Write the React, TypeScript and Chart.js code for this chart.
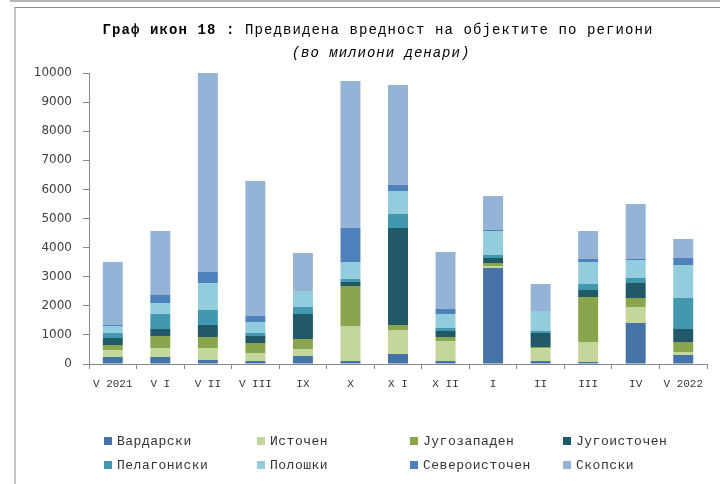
import React, { useEffect, useRef } from "react";
import { Chart, registerables } from "chart.js";

Chart.register(...registerables);

const categories = ["V 2021", "V I", "V II", "V III", "IX", "X", "X I", "X II", "I", "II", "III", "IV", "V 2022"];

const vardarski = [240, 240, 137, 103, 275, 103, 344, 103, 3299, 103, 69, 1409, 309];
const istochen = [240, 310, 413, 275, 240, 1203, 824, 687, 69, 447, 687, 550, 103];
const jugozapaden = [172, 412, 378, 344, 344, 1374, 172, 138, 103, 34, 1546, 309, 344];
const jugoistochen = [240, 241, 412, 240, 859, 138, 3334, 206, 172, 481, 241, 516, 447];
const pelagoniski = [172, 515, 516, 103, 241, 103, 481, 103, 103, 69, 206, 171, 1065];
const poloshki = [241, 378, 928, 378, 550, 584, 790, 481, 824, 687, 756, 619, 1134];
const severoistochen = [34, 275, 378, 207, 0, 1169, 206, 172, 35, 0, 103, 34, 241];
const skopski = [2165, 2199, 6838, 4639, 1305, 5051, 3437, 1959, 1168, 928, 962, 1890, 653];

const seriesNames = ["Вардарски", "Источен", "Југозападен", "Југоисточен", "Пелагониски", "Полошки", "Североисточен", "Скопски"];
const seriesColors = ["#4572A7", "#C4D79B", "#89A54E", "#215968", "#4198AF", "#93CDDD", "#4F81BD", "#95B3D7"];
const seriesValues = [vardarski, istochen, jugozapaden, jugoistochen, pelagoniski, poloshki, severoistochen, skopski];

const yTickMax = 10000;
const yTickStep = 1000;

const mono = "'Liberation Mono', 'DejaVu Sans Mono', monospace";

export default function App() {
  const canvasRef = useRef<HTMLCanvasElement | null>(null);

  useEffect(() => {
    if (!canvasRef.current) return;
    const chart = new Chart(canvasRef.current, {
      type: "bar",
      data: {
        labels: categories,
        datasets: seriesNames.map((name, i) => ({
          label: name,
          data: seriesValues[i],
          backgroundColor: seriesColors[i],
          borderWidth: 0,
          barPercentage: 0.42,
          categoryPercentage: 1.0,
        })),
      },
      options: {
        animation: false,
        responsive: false,
        devicePixelRatio: 1,
        layout: { padding: { top: 73, right: 13, bottom: 0, left: 0 } },
        plugins: {
          legend: { display: false },
          title: { display: false },
          tooltip: { enabled: false },
        },
        scales: {
          x: {
            stacked: true,
            grid: {
              display: true,
              drawOnChartArea: false,
              drawTicks: true,
              tickLength: 5,
              color: "#888888",
              offset: true,
            },
            border: { display: true, color: "#888888", width: 1 },
            ticks: {
              color: "#333333",
              font: { family: mono, size: 11 },
              padding: 8,
              maxRotation: 0,
              autoSkip: false,
            },
            afterFit: (scale: any) => {
              scale.height = 120;
            },
          },
          y: {
            stacked: true,
            min: 0,
            max: yTickMax,
            grid: {
              display: true,
              drawOnChartArea: false,
              drawTicks: true,
              tickLength: 6,
              color: "#888888",
            },
            border: { display: true, color: "#888888", width: 1 },
            ticks: {
              stepSize: yTickStep,
              color: "#404040",
              font: { family: "'DejaVu Sans', sans-serif", size: 12 },
              padding: 11,
              callback: (value: any) => String(value),
            },
            afterFit: (scale: any) => {
              scale.width = 89;
            },
          },
        },
      },
    });
    return () => chart.destroy();
  }, []);

  const legendCols = [104, 257, 410, 563];
  const legendRows = [441, 465];

  return (
    <div
      style={{
        position: "fixed",
        left: 0,
        top: 0,
        width: 720,
        height: 484,
        background: "#ffffff",
        overflow: "hidden",
      }}
    >
      <div style={{ position: "absolute", left: 10, top: 0, width: 710, height: 2, background: "#b4b4b4" }} />
      <div
        style={{
          position: "absolute",
          left: 14,
          top: 7,
          width: 720,
          height: 490,
          borderLeft: "2px solid #c4c4c4",
          borderTop: "1px solid #8c8c8c",
        }}
      />
      <canvas ref={canvasRef} width={720} height={484} style={{ position: "absolute", left: 0, top: 0, width: 720, height: 484 }} />
      <div
        style={{
          position: "absolute",
          left: 0,
          width: 756,
          top: 21,
          textAlign: "center",
          fontFamily: mono,
          fontSize: 14,
          letterSpacing: 1.1,
          color: "#000",
          whiteSpace: "nowrap",
          lineHeight: "18px",
        }}
      >
        <span style={{ fontWeight: "bold" }}>Граф икон 18 :</span> Предвидена вредност на објектите по региони
      </div>
      <div
        style={{
          position: "absolute",
          left: 0,
          width: 762,
          top: 44,
          textAlign: "center",
          fontFamily: mono,
          fontSize: 14,
          letterSpacing: 1,
          fontStyle: "italic",
          color: "#000",
          whiteSpace: "nowrap",
          lineHeight: "18px",
        }}
      >
        (во милиони денари)
      </div>
      {seriesNames.map((name, i) => {
        const col = i % 4;
        const row = Math.floor(i / 4);
        return (
          <div
            key={name}
            style={{
              position: "absolute",
              left: legendCols[col],
              top: legendRows[row] - 8,
              height: 16,
              display: "flex",
              alignItems: "center",
              whiteSpace: "nowrap",
            }}
          >
            <span style={{ display: "inline-block", width: 8, height: 8, background: seriesColors[i], marginRight: 5 }} />
            <span style={{ fontFamily: mono, fontSize: 13, letterSpacing: 0.5, color: "#333" }}>{name}</span>
          </div>
        );
      })}
    </div>
  );
}
